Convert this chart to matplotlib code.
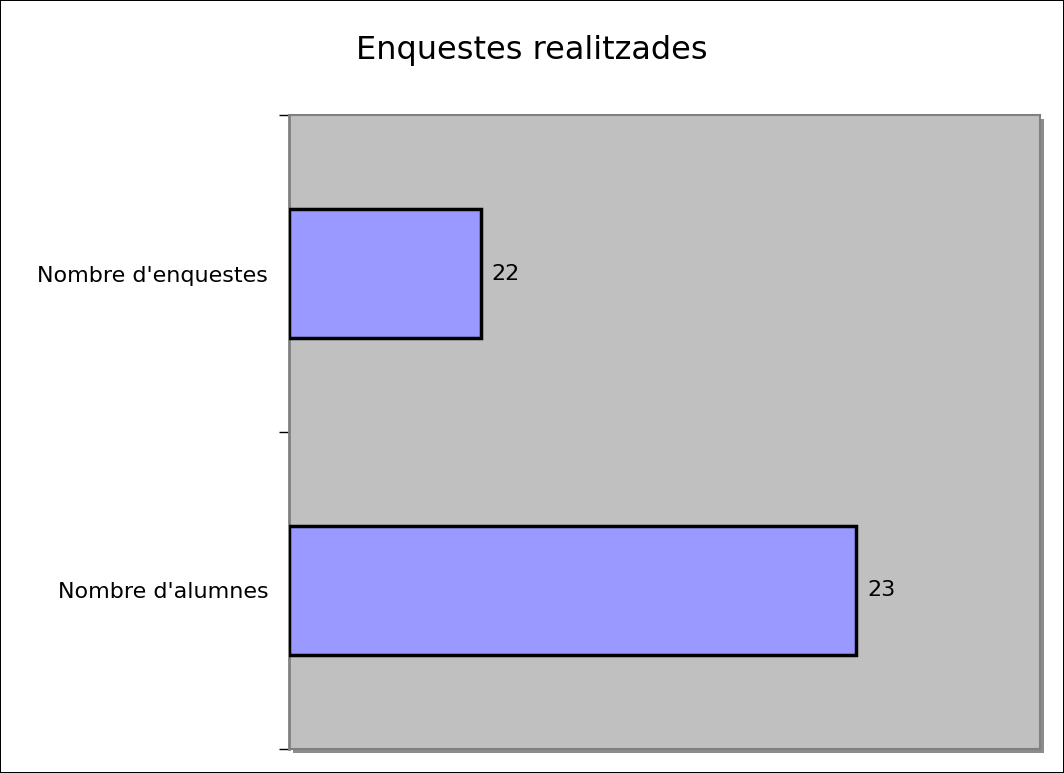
import matplotlib
matplotlib.use("Agg")
import matplotlib.pyplot as plt
from matplotlib.patches import Rectangle

categories = ["Nombre d'alumnes", "Nombre d'enquestes"]
values = [23, 22]
title = "Enquestes realitzades"
x_min, x_max = 21.49, 23.49

fig = plt.figure(figsize=(10.64, 7.73), dpi=100)
fig.patch.set_facecolor("white")
fig.patch.set_edgecolor("black")
fig.patch.set_linewidth(1.2)

L, R = 289 / 1064, 1040 / 1064
B, T = 1 - 749 / 773, 1 - 115 / 773
ax = fig.add_axes([L, B, R - L, T - B])
ax.set_facecolor("#C0C0C0")
shadow = Rectangle((L + 4 / 1064, B - 4 / 773), R - L, T - B, transform=fig.transFigure,
                   facecolor="#8c8c8c", edgecolor="none", zorder=-1)
fig.add_artist(shadow)
ax.set_zorder(2)

y = list(range(len(categories)))
widths = [v - x_min for v in values]
ax.barh(y, widths, left=x_min, height=0.405, color="#9999FF", edgecolor="black",
        linewidth=2.5, zorder=3)
for yi, v in zip(y, values):
    ax.text(v + 0.03, yi, str(v), va="center", ha="left", fontsize=16, color="black")

ax.set_xlim(x_min, x_max)
ax.set_ylim(-0.5, 1.5)
ax.set_xticks([])
ax.set_yticks(y)
ax.set_yticklabels(categories, fontsize=16)
ax.tick_params(axis="y", which="major", length=0, pad=15)
ax.set_yticks([-0.5, 0.5, 1.5], minor=True)
ax.tick_params(axis="y", which="minor", length=7, width=1, color="black", direction="out")

for s in ["top", "right", "bottom"]:
    ax.spines[s].set_color("#808080")
    ax.spines[s].set_linewidth(1.5)
ax.spines["left"].set_color("#808080")
ax.spines["left"].set_linewidth(2)

fig.text(0.5, 1 - 50 / 773, title, ha="center", va="center", fontsize=23)

fig.savefig("out.png", dpi=100, edgecolor="black")
